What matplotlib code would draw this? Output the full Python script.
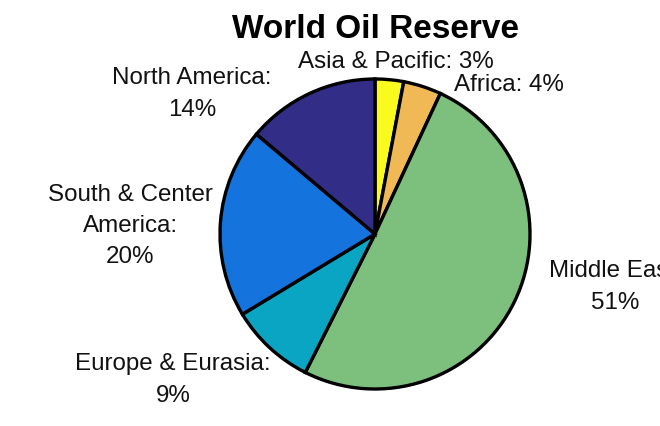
import matplotlib
matplotlib.use("Agg")
import matplotlib.pyplot as plt

plt.rcParams['font.family'] = ['Liberation Sans', 'DejaVu Sans']

regions = ["Asia & Pacific", "Africa", "Middle East", "Europe & Eurasia",
           "South & Center America", "North America"]
shares = [3, 4, 51, 9, 20, 14]
label_texts = ["Asia & Pacific: 3%", "Africa: 4%", "Middle East:\n51%",
               "Europe & Eurasia:\n9%", "South & Center\nAmerica:\n20%",
               "North America:\n14%"]
colors = ["#FAFA1E", "#F0B955", "#7DC07D", "#0AA5C3", "#1473DC", "#322D87"]

W, H = 660, 427
fig = plt.figure(figsize=(W / 100, H / 100), dpi=100)
ax = fig.add_axes([0, 0, 1, 1])
ax.set_xlim(0, W)
ax.set_ylim(0, H)
ax.set_aspect('equal')
ax.axis('off')

cx, cy, r = 375, H - 235, 155
ax.pie(shares, colors=colors, startangle=90, counterclock=False,
       center=(cx, cy), radius=r,
       wedgeprops=dict(edgecolor='black', linewidth=2.4))

ax.set_xlim(0, W)
ax.set_ylim(0, H)

label_pos = [(396, 62), (509, 85), (615, 287), (173, 380), (130, 226), (192, 94)]
for txt, (x, y) in zip(label_texts, label_pos):
    ax.text(x, H - y, txt, ha='center', va='center', fontsize=17.4,
            linespacing=1.53, color='#111111', clip_on=False)

ax.text(376, H - 30, "World Oil Reserve", ha='center', va='center',
        fontsize=24, fontweight='bold', color='black')

fig.savefig("out.png", dpi=100, facecolor='white')
